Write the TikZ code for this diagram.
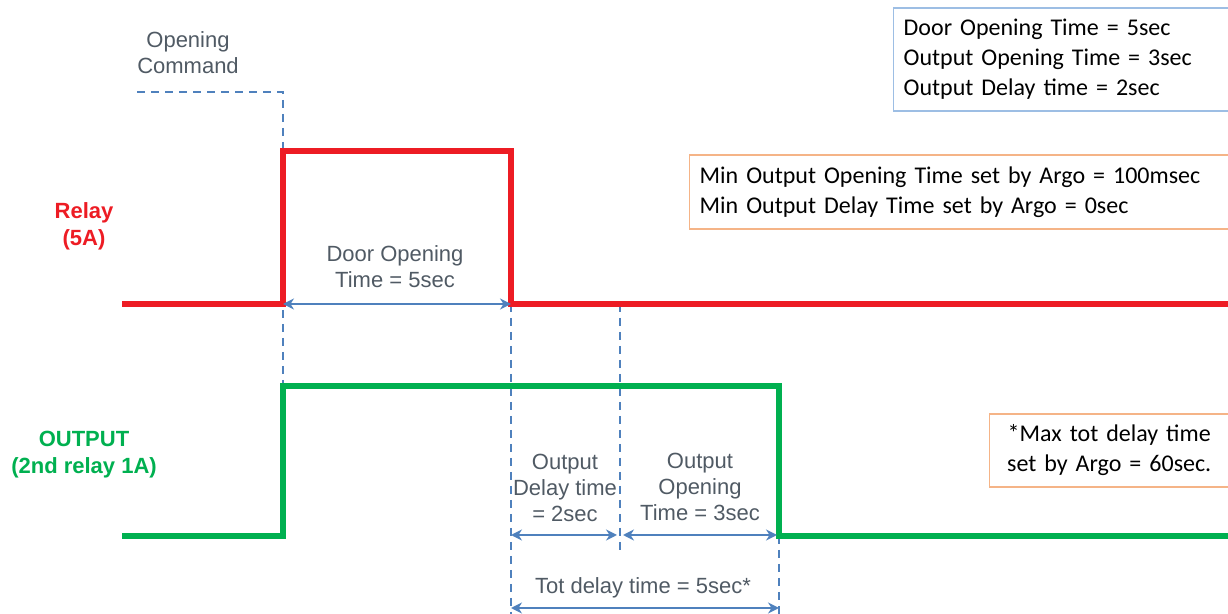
\documentclass[tikz,border=0pt]{standalone}
\usepackage{xcolor}
\usepackage{fontspec}
\setmainfont{Liberation Sans}
\newfontfamily\boxfont{Carlito}
\usepackage{tikz}
\usetikzlibrary{arrows.meta, positioning}

\definecolor{relayred}{RGB}{237,28,36}
\definecolor{outgreen}{RGB}{0,176,80}
\definecolor{guideblue}{RGB}{79,129,189}
\definecolor{labelgray}{RGB}{80,90,100}
\definecolor{boxblue}{RGB}{157,190,228}
\definecolor{boxorange}{RGB}{245,180,135}

\begin{document}
\begin{tikzpicture}[
    x=0.5pt, y=-0.5pt,
    relaysig/.style={draw=relayred, line width=3pt},
    outsig/.style={draw=outgreen, line width=3pt},
    guideline/.style={draw=guideblue, line width=1.2pt, dash pattern=on 4pt off 3pt},
    dimarrow/.style={{Stealth[length=5.5pt,width=5.5pt]}-{Stealth[length=5.5pt,width=5.5pt]},
                     draw=guideblue, line width=1.1pt},
    timelbl/.style={font=\fontsize{11}{13}\selectfont, text=labelgray,
                    align=center, inner sep=0pt},
    siglbl/.style={font=\bfseries\fontsize{11}{13.5}\selectfont, align=center, inner sep=0pt},
    infobox/.style={font=\boxfont\fontsize{12}{15}\selectfont, anchor=west,
                    inner xsep=5pt, inner ysep=0pt, line width=0.7pt}
]
\useasboundingbox (0,0) rectangle (1228,614);

% Timing marks
\coordinate (cmd0) at (137,92);
\coordinate (cmd1) at (283,92);
\coordinate (tOn) at (283,386);
\coordinate (tOff) at (511,304);
\coordinate (tDly) at (620,304);
\coordinate (tEnd) at (779,536);
\coordinate (tOffB) at (511,614);
\coordinate (tDlyB) at (620,553);
\coordinate (tEndB) at (779,614);

% Guides
\draw[guideline] (cmd0) -- (cmd1) -- (tOn);
\draw[guideline] (tOff) -- (tOffB);
\draw[guideline] (tDly) -- (tDlyB);
\draw[guideline] (tEnd) -- (tEndB);

% Signals
\draw[relaysig] (122,304) -| (283,151) -| (511,304) -- (1230,304);
\draw[outsig] (122,536) -| (283,386) -| (779,536) -- (1230,536);

% Time spans
\coordinate (dA1) at (511,535);
\coordinate (dA2) at (617,535);
\coordinate (dA3) at (623,535);
\coordinate (dA4) at (777,535);
\coordinate (dB1) at (511,608);
\coordinate (dB2) at (779,608);
\draw[dimarrow] (tOn |- tOff) -- (tOff);
\draw[dimarrow] (dA1) -- (dA2);
\draw[dimarrow] (dA3) -- (dA4);
\draw[dimarrow] (dB1) -- (dB2);

% Labels
\node[timelbl] (cmdtxt) at (188,53) {Opening\\Command};
\node[timelbl] (doortxt) at (395,267) {Door Opening\\Time = 5sec};
\node[timelbl] (dlytxt) at (565,488) {Output\\Delay time\\= 2sec};
\node[timelbl] (opntxt) at (700,487) {Output\\Opening\\Time = 3sec};
\node[timelbl] (tottxt) at (643,588) {Tot delay time = 5sec*};
\node[siglbl, text=relayred] (relaytxt) at (84,226) {Relay\\(5A)};
\node[siglbl, text=outgreen] (outtxt) at (84,455) {OUTPUT\\(2nd relay 1A)};

% Settings boxes
\node[infobox, draw=boxblue, text width=162.5pt, minimum height=51.5pt, align=left]
  (given) at (893,59.5) {Door Opening Time = 5sec\\Output Opening Time = 3sec\\Output Delay time = 2sec};
\node[infobox, draw=boxorange, text width=264.5pt, minimum height=37pt, align=left]
  (argomin) at (689,192) {Min Output Opening Time set by Argo = 100msec\\Min Output Delay Time set by Argo = 0sec};
\node[infobox, draw=boxorange, text width=109.5pt, minimum height=36.5pt, align=center]
  (argomax) at (989,450.5) {*Max tot delay time\\set by Argo = 60sec.};

\end{tikzpicture}
\end{document}
